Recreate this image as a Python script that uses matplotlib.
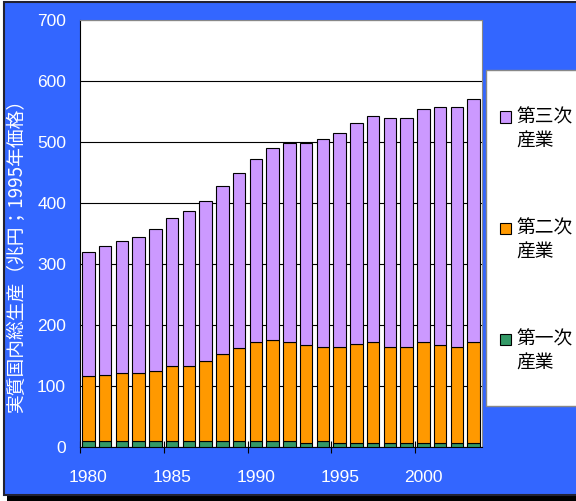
import numpy as np
import matplotlib.pyplot as plt
from matplotlib.patches import Rectangle

# 実質国内総生産 by sector, 1980-2003 (兆円, 1995年価格)
years = np.arange(1980, 2004)
total = [320, 330, 338, 344, 358, 375, 387, 403, 428, 450, 473, 490,
         498, 498, 505, 515, 532, 543, 540, 540, 555, 557, 557, 571]
primary = [10, 10, 10, 10, 10, 10, 10, 10, 10, 10, 10, 10,
           10, 7, 10, 7, 7, 7, 7, 7, 7, 7, 7, 7]
primary_plus_secondary = [117, 119, 122, 122, 125, 133, 133, 141, 153, 162, 173, 175,
                          172, 167, 164, 164, 170, 172, 164, 164, 172, 167, 164, 172]

secondary = np.array(primary_plus_secondary) - np.array(primary)
tertiary = np.array(total) - np.array(primary_plus_secondary)

labels = [('第一次', '産業'), ('第二次', '産業'), ('第三次', '産業')]
colors = ['#339966', '#FF9900', '#CC99FF']

W, H = 576, 501
bg_blue = '#3366FF'
jp_font = ['Noto Sans CJK JP', 'DejaVu Sans']
num_font = ['Liberation Sans', 'DejaVu Sans']

fig = plt.figure(figsize=(W / 100, H / 100), dpi=100, facecolor='white')

# blue panel with its dark frame and drop shadow
fig.patches.append(Rectangle((7 / W, 0), 1, 6 / H, transform=fig.transFigure,
                             facecolor='black', edgecolor='none', zorder=-2))
fig.patches.append(Rectangle((3.5 / W, 6 / H), 1, (H - 8) / H, transform=fig.transFigure,
                             facecolor=bg_blue, edgecolor='#222233', linewidth=1.5, zorder=-2))

ax = fig.add_axes([80 / W, (H - 447.3) / H, 402 / W, 427.3 / H])
ax.set_zorder(3)
ax.set_facecolor('white')

x = np.arange(len(years))
bw = 0.74
ax.bar(x, primary, bw, color=colors[0], edgecolor='black', linewidth=0.8, zorder=3)
ax.bar(x, secondary, bw, bottom=primary, color=colors[1], edgecolor='black', linewidth=0.8,
       zorder=3)
ax.bar(x, tertiary, bw, bottom=primary_plus_secondary, color=colors[2], edgecolor='black',
       linewidth=0.8, zorder=3)

ax.set_xlim(-0.5, len(years) - 0.5)
ax.set_ylim(0, 700)
ax.set_yticks(range(0, 701, 100))
ax.yaxis.grid(True, color='black', linewidth=0.8, zorder=0)
ax.set_axisbelow(True)
ax.tick_params(axis='y', length=0, pad=10, labelsize=12.5, labelcolor='white')

# category ticks sit between bars, labels under every fifth year
ax.set_xticks(np.arange(-0.5, len(years), 5))
ax.set_xticklabels([])
ax.set_xticks(np.arange(0, len(years), 5), minor=True)
ax.set_xticklabels([str(y) for y in years[::5]], minor=True)
ax.tick_params(axis='x', which='major', direction='inout', length=8, width=0.8, color='black')
ax.tick_params(axis='x', which='minor', length=0, pad=16, labelsize=12.5, labelcolor='white')
for lab in ax.get_yticklabels() + ax.get_xticklabels(minor=True):
    lab.set_family(num_font)

for side in ['top', 'right']:
    ax.spines[side].set_color('#888888')
for side in ['left', 'bottom']:
    ax.spines[side].set_color('black')

fig.text(17 / W, 250 / H, '実質国内総生産（兆円；1995年価格）', rotation=90,
         ha='center', va='center', color='white', fontsize=13.5, family=jp_font)

# legend box on the right, entries listed top-down from 第三次
fig.patches.append(Rectangle((486 / W, (H - 406) / H), 100 / W, 336 / H, transform=fig.transFigure,
                             facecolor='white', edgecolor='#888888', linewidth=1, zorder=1))
entry_y = [339, 228, 117]
for (l1, l2), c, yy in zip(labels, colors, entry_y):
    fig.patches.append(Rectangle((500 / W, (H - yy - 5.5) / H), 11 / W, 11 / H,
                                 transform=fig.transFigure, facecolor=c,
                                 edgecolor='black', linewidth=0.8, zorder=2))
    fig.text(516 / W, (H - yy) / H, l1, ha='left', va='center', fontsize=13.5,
             family=jp_font, color='black')
    fig.text(516 / W, (H - yy - 24) / H, l2, ha='left', va='center', fontsize=13.5,
             family=jp_font, color='black')

fig.savefig('out.png', dpi=100, facecolor=fig.get_facecolor())
